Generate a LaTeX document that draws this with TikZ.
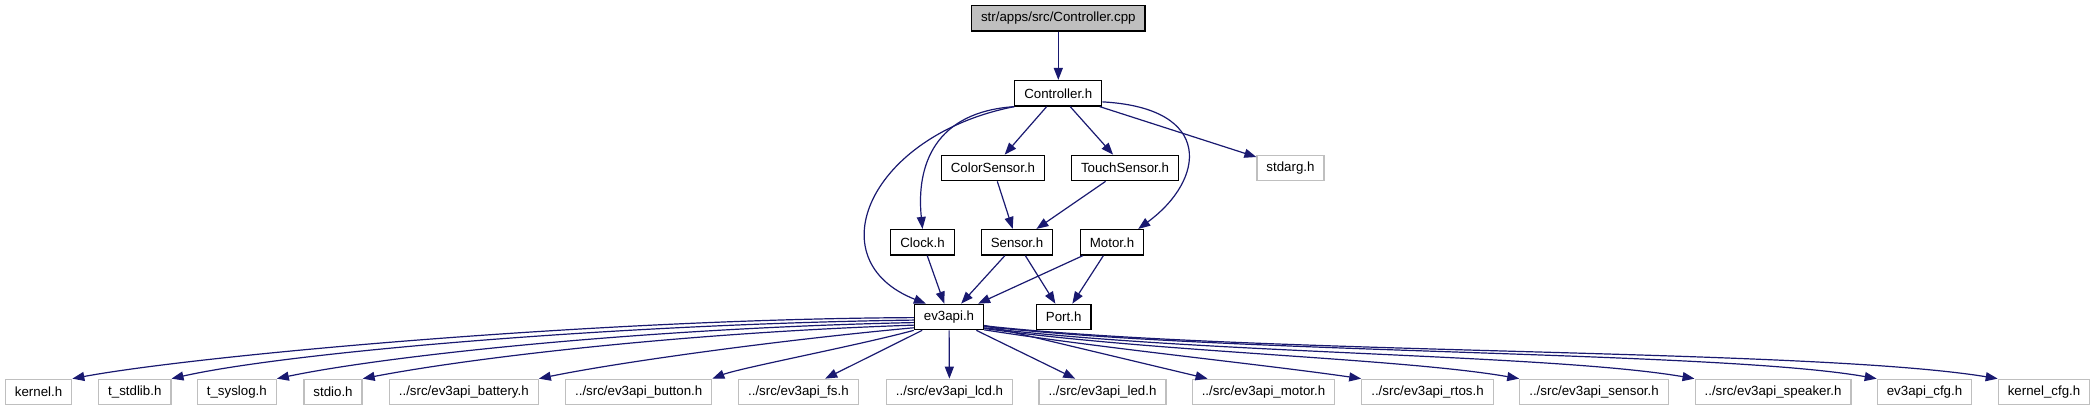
\documentclass[tikz,border=0pt]{standalone}
\usepackage{fontspec}
\setmainfont{Liberation Sans}
\usetikzlibrary{arrows.meta}
\definecolor{edgeblue}{HTML}{191970}
\definecolor{extgray}{HTML}{BFBFBF}
\tikzset{
 hdr/.style={draw=black, line width=1.2pt, fill=white, inner xsep=9.5pt, inner ysep=0pt,
  minimum height=25.5pt, font=\fontsize{13.3}{16}\selectfont},
 ext/.style={hdr, draw=extgray},
 root/.style={hdr, fill=extgray},
 incl/.style={draw=edgeblue, line width=1.2pt, -{Triangle[length=12pt,width=9pt]}}
}

\begin{document}
\begin{tikzpicture}[x=1pt,y=1pt]
%%%%%include graph starts here
\def\ya{-18.3}
\def\yb{-93.3}
\def\yc{-168}
\def\yd{-242.3}
\def\ye{-317}
\def\yf{-392}
\useasboundingbox (0,0) rectangle (2096,-411);

\node[root] (cpp) at (1058.3,\ya) {str/apps/src/Controller.cpp};
\node[hdr] (ctrl) at (1058.3,\yb) {Controller.h};
\node[hdr] (color) at (993,\yc) {ColorSensor.h};
\node[hdr] (touch) at (1125,\yc) {TouchSensor.h};
\node[ext] (stdarg) at (1290.5,\yc) {stdarg.h};
\node[hdr] (clock) at (922.5,\yd) {Clock.h};
\node[hdr] (sensor) at (1017,\yd) {Sensor.h};
\node[hdr] (motor) at (1112,\yd) {Motor.h};
\node[hdr] (ev3api) at (949,\ye) {ev3api.h};
\node[hdr] (port) at (1063.7,\ye) {Port.h};

% system and api headers
\foreach \n/\x/\t in {kernel/38.6/{kernel.h}, tstdlib/134.8/{t\_stdlib.h}, tsyslog/236.8/{t\_syslog.h},
  stdio/333/{stdio.h}, battery/463.8/{../src/ev3api\_battery.h}, button/638.7/{../src/ev3api\_button.h},
  fs/798.4/{../src/ev3api\_fs.h}, lcd/949.5/{../src/ev3api\_lcd.h}, led/1102.5/{../src/ev3api\_led.h},
  apimotor/1263.5/{../src/ev3api\_motor.h}, rtos/1427.5/{../src/ev3api\_rtos.h},
  apisensor/1594/{../src/ev3api\_sensor.h}, speaker/1773/{../src/ev3api\_speaker.h},
  apicfg/1924.5/{ev3api\_cfg.h}, kernelcfg/2044/{kernel\_cfg.h}}
 \node[ext] (\n) at (\x,\yf) {\t};

\draw[incl] (cpp) -- (ctrl);
\draw[incl] (ctrl) -- (color);
\draw[incl] (ctrl) -- (touch);
\draw[incl] (ctrl) -- (stdarg);
\draw[incl] (ctrl.south west) .. controls (870,-135) and (815,-260) .. (ev3api.150);
\draw[incl] (ctrl.south west) .. controls (935,-112) and (916,-165) .. (clock.north);
\draw[incl] (ctrl.-11) .. controls (1215,-108) and (1205,-180) .. (motor.27);
\draw[incl] (color) -- (sensor);
\draw[incl] (touch) -- (sensor);
\draw[incl] (clock) -- (ev3api);
\draw[incl] (sensor) -- (ev3api);
\draw[incl] (sensor) -- (port);
\draw[incl] (motor) -- (ev3api);
\draw[incl] (motor) -- (port);

% ev3api.h fans out
\foreach \n/\a/\p/\q in {kernel/181/{600,-319}/{200,-355}, tstdlib/185/{620,-324}/{290,-352},
  tsyslog/189/{650,-328}/{390,-355}, stdio/193/{680,-333}/{470,-358},
  battery/197/{780,-340}/{620,-362}, button/south west/{860,-345}/{740,-368}}
 \draw[incl] (ev3api.\a) .. controls (\p) and (\q) .. (\n.north east);
\foreach \n in {fs,lcd,led,apimotor} \draw[incl] (ev3api) -- (\n);
\foreach \n/\a/\p/\q in {rtos/-20/{1100,-348}/{1260,-364}, apisensor/-18.5/{1150,-352}/{1400,-358},
  speaker/-17/{1200,-354}/{1550,-354}, apicfg/-15.5/{1230,-354}/{1720,-351},
  kernelcfg/-14/{1250,-355}/{1810,-348}}
 \draw[incl] (ev3api.\a) .. controls (\p) and (\q) .. (\n.north west);
%%%%%include graph ends here
\end{tikzpicture}
\end{document}
